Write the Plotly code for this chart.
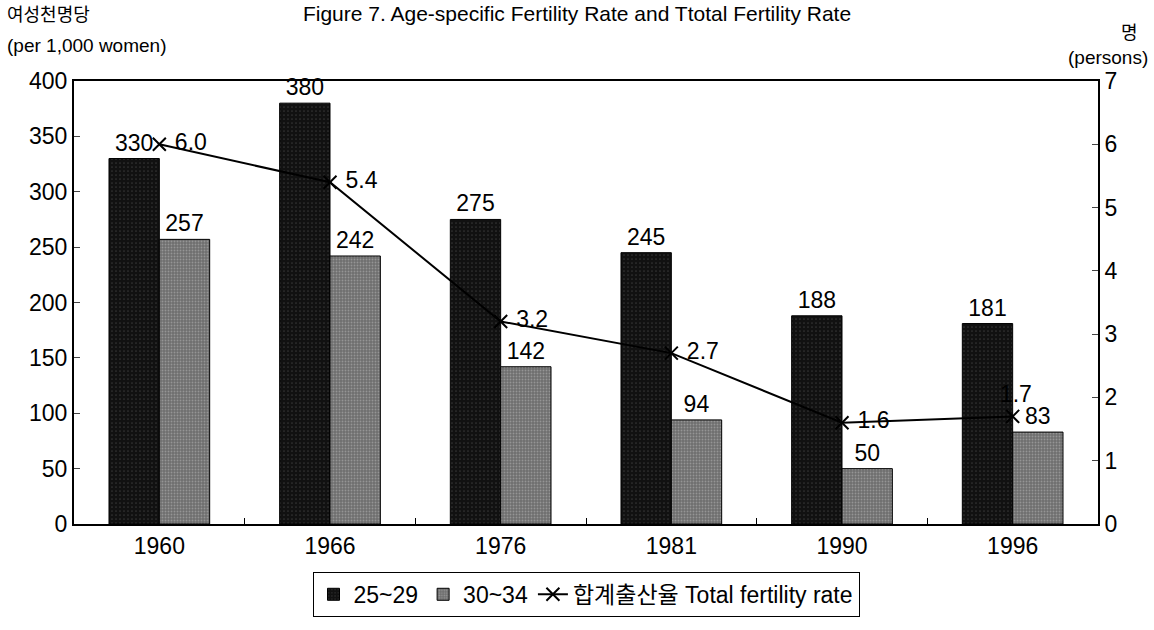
import plotly.graph_objects as go

# data
years = ['1960', '1966', '1976', '1981', '1990', '1996']
rate_25_29 = [330, 380, 275, 245, 188, 181]
rate_30_34 = [257, 242, 142, 94, 50, 83]
tfr = [6.0, 5.4, 3.2, 2.7, 1.6, 1.7]

FONT = '"Liberation Sans", Arial, "Noto Sans CJK KR", sans-serif'

fig = go.Figure()

fig.add_trace(go.Bar(
    x=years, y=rate_25_29, name='25~29',
    marker=dict(color='#111111', line=dict(color='#000000', width=1),
                pattern=dict(shape='.', fgcolor='#555555', bgcolor='#111111', size=4, solidity=0.15)),
    text=rate_25_29, textposition='outside', cliponaxis=False,
    textfont=dict(size=23, color='#000000'),
))
fig.add_trace(go.Bar(
    x=years, y=rate_30_34, name='30~34',
    marker=dict(color='#7a7a7a', line=dict(color='#000000', width=1),
                pattern=dict(shape='.', fgcolor='#bbbbbb', bgcolor='#6e6e6e', size=3, solidity=0.3)),
    text=rate_30_34, textposition='outside', cliponaxis=False,
    textfont=dict(size=23, color='#000000'),
))
fig.add_trace(go.Scatter(
    x=years, y=tfr, name='합계출산율 Total fertility rate', yaxis='y2',
    mode='lines+markers+text',
    line=dict(color='#000000', width=2),
    marker=dict(symbol='x-thin', size=13, line=dict(color='#000000', width=2)),
    text=[f' {v:.1f}' for v in tfr],
    textposition=['middle right'] * 5 + ['top center'],
    textfont=dict(size=23, color='#000000'),
    cliponaxis=False,
))

fig.update_layout(
    width=1154, height=630,
    margin=dict(l=74, r=56, t=81, b=106, autoexpand=False),
    paper_bgcolor='white', plot_bgcolor='white',
    font=dict(family=FONT, size=21, color='#000000'),
    barmode='group', bargap=0.41, bargroupgap=0,
    showlegend=True,
    legend=dict(orientation='h', x=0.5, xanchor='center', y=-0.108, yanchor='top',
                bordercolor='#000000', borderwidth=1, font=dict(size=23),
                traceorder='normal'),
    title=dict(text='Figure 7. Age-specific Fertility Rate and Ttotal Fertility Rate',
               x=0.5, xanchor='center', y=0.979, yanchor='middle', font=dict(size=21)),
    xaxis=dict(type='category', showline=True, linecolor='#000000', linewidth=2, mirror=True,
               ticks='inside', tickson='boundaries', ticklen=6, tickcolor='#000000',
               showgrid=False, tickfont=dict(size=23), automargin=False),
    yaxis=dict(range=[0, 400], dtick=50, showline=True, linecolor='#000000', linewidth=2,
               ticks='inside', ticklen=6, showgrid=False, zeroline=False,
               tickfont=dict(size=23), automargin=False),
    yaxis2=dict(range=[0, 7], dtick=1, overlaying='y', side='right', showline=True,
                linecolor='#000000', linewidth=2, ticks='inside', ticklen=6,
                showgrid=False, zeroline=False, tickfont=dict(size=23), automargin=False),
    annotations=[
        dict(text='여성천명당', xref='paper', yref='paper',
             x=-0.0674, y=1.149, xanchor='left', yanchor='middle', showarrow=False,
             font=dict(size=18)),
        dict(text='(per 1,000 women)', xref='paper', yref='paper',
             x=-0.0674, y=1.081, xanchor='left', yanchor='middle', showarrow=False,
             font=dict(size=19)),
        dict(text='명', xref='paper', yref='paper',
             x=1.041, y=1.109, xanchor='right', yanchor='middle', showarrow=False,
             font=dict(size=18)),
        dict(text='(persons)', xref='paper', yref='paper',
             x=1.0508, y=1.054, xanchor='right', yanchor='middle', showarrow=False,
             font=dict(size=19)),
    ],
)

fig.write_html('out.html', config={'displayModeBar': False},
               post_script="document.body.style.margin='0';")
